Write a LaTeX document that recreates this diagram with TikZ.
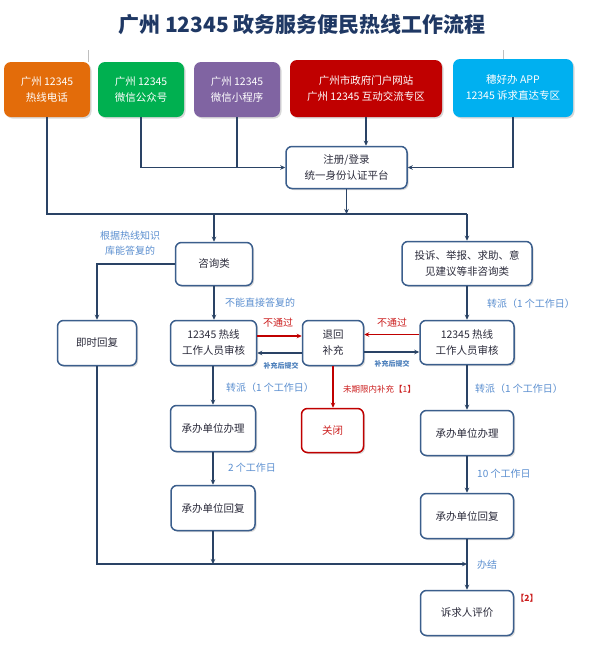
\documentclass[tikz,border=0pt]{standalone}
\usepackage{fontspec}
\setmainfont{Noto Sans CJK SC}
\usetikzlibrary{arrows.meta,shadows}
\definecolor{boxblue}{HTML}{3B5E8C}
\definecolor{lineblue}{HTML}{2A4365}
\definecolor{boxtext}{HTML}{2B2B3B}
\definecolor{lblblue}{HTML}{5B8FD0}
\definecolor{subblue}{HTML}{4A7EBB}
\definecolor{myred}{HTML}{C00000}
\definecolor{lblred}{HTML}{CC1F1F}
\definecolor{c1}{HTML}{E36C0A}
\definecolor{c2}{HTML}{00B050}
\definecolor{c3}{HTML}{8064A2}
\definecolor{c4}{HTML}{C00000}
\definecolor{c5}{HTML}{00B0F0}
\definecolor{titlecol}{HTML}{1F3864}
\tikzset{
  box/.style={draw=boxblue, line width=1.5pt, rounded corners=6pt, fill=white,
    text=boxtext, align=center, font=\fontsize{10.5}{16}\selectfont, inner sep=0pt,
    drop shadow={shadow xshift=1.5pt, shadow yshift=-1.5pt, opacity=0.3}},
  redbox/.style={box, draw=myred, text=lblred},
  topbox/.style={rounded corners=7pt, text=white, align=center,
    font=\fontsize{10.5}{16}\selectfont, inner sep=0pt,
    drop shadow={shadow xshift=1.5pt, shadow yshift=-1.5pt, opacity=0.3}},
  conn/.style={draw=lineblue, line width=1.6pt},
  arr/.style={conn, -{Stealth[length=5pt,width=4.5pt]}},
  redarr/.style={draw=myred, line width=1.6pt, -{Stealth[length=5pt,width=4.5pt]}},
  lbl/.style={text=lblblue, font=\fontsize{10}{15}\selectfont, inner sep=0pt, align=center},
  rlbl/.style={text=lblred, font=\fontsize{10}{12}\selectfont, inner sep=0pt},
  sublbl/.style={text=subblue, font=\bfseries\fontsize{7}{8}\selectfont, inner sep=0pt},
}
\begin{document}
\begin{tikzpicture}[x=1pt,y=-1pt]
\useasboundingbox[fill=white] (0,0) rectangle (591,665);

% title
\node[text=titlecol, font=\bfseries\fontsize{21}{24}\selectfont, inner sep=0pt] (title) at (302,25) {广州 12345 政务服务便民热线工作流程};

% faint marks
\draw[black!25, line width=0.8pt] (88,50) -- (88,62);
\draw[black!25, line width=0.8pt] (503,50) -- (503,62);

% top sources
\node[topbox, fill=c1, minimum width=86pt, minimum height=55pt] (t1) at (47,89.5) {广州 12345\\热线电话};
\node[topbox, fill=c2, minimum width=86pt, minimum height=55pt] (t2) at (141,89.5) {广州 12345\\微信公众号};
\node[topbox, fill=c3, minimum width=86pt, minimum height=55pt] (t3) at (237,89.5) {广州 12345\\微信小程序};
\node[topbox, fill=c4, minimum width=152pt, minimum height=57pt] (t4) at (366,88.5) {广州市政府门户网站\\广州 12345 互动交流专区};
\node[topbox, fill=c5, minimum width=120pt, minimum height=58pt] (t5) at (513,88) {穗好办 APP\\12345 诉求直达专区};

% boxes
\node[box, minimum width=121pt, minimum height=42pt] (reg) at (346.5,167.5) {注册/登录\\统一身份认证平台};
\node[box, minimum width=77pt, minimum height=43pt] (zx) at (214,264) {咨询类};
\node[box, minimum width=130pt, minimum height=44pt] (ts) at (467,263.5) {投诉、举报、求助、意\\见建议等非咨询类};
\node[box, minimum width=79pt, minimum height=45pt] (js) at (97,343) {即时回复};
\node[box, minimum width=86pt, minimum height=45pt] (rx1) at (213.5,343) {12345 热线\\工作人员审核};
\node[box, minimum width=61pt, minimum height=45pt] (th) at (333,343) {退回\\补充};
\node[box, minimum width=94pt, minimum height=44pt] (rx2) at (467,342.5) {12345 热线\\工作人员审核};
\node[redbox, minimum width=62pt, minimum height=44pt] (gb) at (332.5,430.5) {关闭};
\node[box, minimum width=85pt, minimum height=46pt] (bl1) at (213,428.5) {承办单位办理};
\node[box, minimum width=93pt, minimum height=45pt] (bl2) at (467,433) {承办单位办理};
\node[box, minimum width=84pt, minimum height=45pt] (hf1) at (213,508) {承办单位回复};
\node[box, minimum width=93pt, minimum height=45pt] (hf2) at (467,516) {承办单位回复};
\node[box, minimum width=93pt, minimum height=45pt] (pj) at (467,613) {诉求人评价};

\coordinate (hl) at (467,214);
\coordinate (hb) at (467,564);

% top connectors
\draw[conn] (t1.south) |- (hl);
\draw[arr] (t2.south) |- (reg.west);
\draw[conn] (t3.south) -- (t3.south |- reg.west);
\draw[arr] (t4.south) -- (t4.south |- reg.north);
\draw[arr] (t5.south) |- (reg.east);
\draw[arr] (reg.south) -- (reg.south |- hl);
\draw[arr] (zx.north |- hl) -- (zx.north);
\draw[arr] (hl) -- (ts.north);

% middle
\draw[arr] (zx.west) -| (js.north);
\draw[arr] (zx.south) -- (zx.south |- rx1.north);
\draw[arr] (ts.south) -- (rx2.north);
\draw[redarr] ([yshift=7pt]rx1.east) -- ([yshift=7pt]th.west |- rx1.east);
\draw[arr] ([yshift=-10pt]th.west) -- ([yshift=-10pt]rx1.east |- th.west);
\draw[redarr] ([yshift=8pt]rx2.west) -- ([yshift=8pt]th.east |- rx2.west);
\draw[arr] ([yshift=-9.5pt]th.east |- rx2.west) -- ([yshift=-9.5pt]rx2.west);
\draw[redarr] (th.south) -- (th.south |- gb.north);

% left column
\draw[arr] (rx1.south -| bl1.north) -- (bl1.north);
\draw[arr] (bl1.south) -- (bl1.south |- hf1.north);
\draw[arr] (hf1.south) -- (hf1.south |- hb);
\draw[arr] (js.south) |- (hb);

% right column
\draw[arr] (rx2.south) -- (bl2.north);
\draw[arr] (bl2.south) -- (hf2.north);
\draw[arr] (hf2.south) -- (pj.north);

% labels
\node[lbl] (l1) at (130,243) {根据热线知识\\库能答复的};
\node[lbl, anchor=west] (l2) at (225,303) {不能直接答复的};
\node[rlbl] (l3) at (278,323) {不通过};
\node[rlbl] (l4) at (392,323) {不通过};
\node[sublbl] (l5) at (281,366) {补充后提交};
\node[sublbl] (l6) at (392,364) {补充后提交};
\node[lbl, anchor=west] (l7) at (487,304) {转派（1 个工作日）};
\node[lbl, anchor=west] (l8) at (226,388) {转派（1 个工作日）};
\node[lbl, anchor=west] (l9) at (475,389) {转派（1 个工作日）};
\node[text=lblred, font=\fontsize{8.5}{10}\selectfont, inner sep=0pt, anchor=west] (l10) at (343,389) {未期限内补充【1】};
\node[lbl, anchor=west] (l11) at (228,468) {2 个工作日};
\node[lbl, anchor=west] (l12) at (477,474) {10 个工作日};
\node[lbl, anchor=west] (l13) at (477,565) {办结};
\node[text=lblred, font=\bfseries\fontsize{8.5}{10}\selectfont, inner sep=0pt] (l14) at (527,598) {【2】};
\end{tikzpicture}
\end{document}
